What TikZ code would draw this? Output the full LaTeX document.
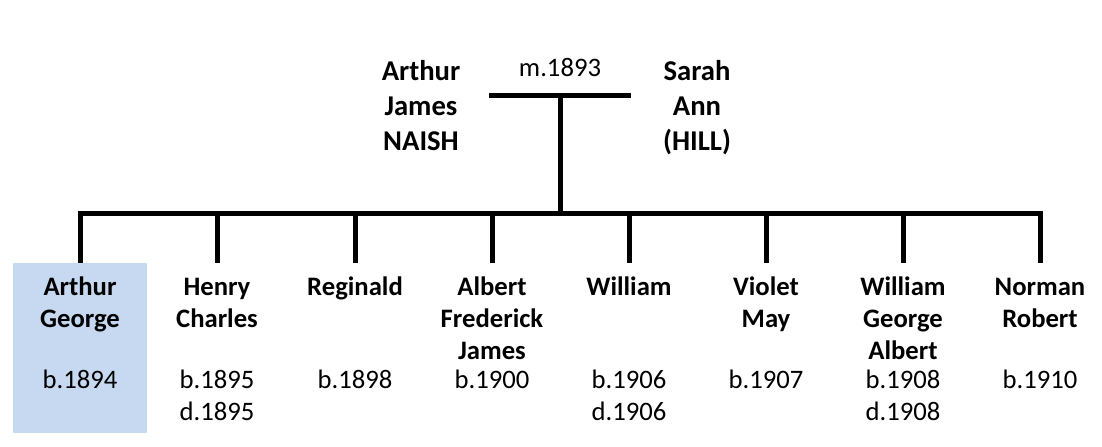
\documentclass[tikz,border=0pt]{standalone}
\usepackage{fontspec}
\setmainfont{Carlito}
\definecolor{paleblue}{RGB}{198,217,240}
% lines stacked from the first baseline down
\newcommand{\namestack}[1]{\begin{tabular}[t]{@{}c@{}}#1\end{tabular}}
\tikzset{
  person/.style={inner sep=0pt, anchor=base, font=\fontsize{20}{24}\selectfont\bfseries},
  parent/.style={inner sep=0pt, anchor=base, font=\fontsize{21.5}{26}\selectfont\bfseries},
  year/.style={inner sep=0pt, anchor=base, font=\fontsize{20}{24}\selectfont},
  bar/.style={line width=3.75pt},
  kid/.style={anchor=north, inner sep=0pt, minimum width=100.5pt, minimum height=127.5pt}
}
\begin{document}
\begin{tikzpicture}[x=0.75pt,y=-0.75pt]
		\useasboundingbox (0,0) rectangle (1102,446);
		% parents
		\node (f) [parent] at (421,80.7) {\namestack{Arthur\\James\\NAISH}};
		\node (m) [parent] at (697,80.7) {\namestack{Sarah\\Ann\\(HILL)}};
		\node (w) [year] at (560,76) {m.1893};
		\coordinate (ml) at (489,95);
		\coordinate (mr) at (631,95);
		\coordinate (j) at (560,213);
		\draw [bar] (ml) -- (mr);
		\draw [bar] (j |- ml) -- (j);
		% children
		\foreach \i/\x/\fc/\name/\dates in {
			1/80/paleblue/{Arthur\\George}/{b.1894},
			2/217/none/{Henry\\Charles}/{b.1895\\d.1895},
			3/355/none/{Reginald}/{b.1898},
			4/492/none/{Albert\\Frederick\\James}/{b.1900},
			5/629/none/{William}/{b.1906\\d.1906},
			6/766/none/{Violet\\May}/{b.1907},
			7/903/none/{William\\George\\Albert}/{b.1908\\d.1908},
			8/1040/none/{Norman\\Robert}/{b.1910}}
		{
			\node (c\i) [kid, fill=\fc] at (\x,263) {};
			\node (n\i) [person] at (\x,295) {\namestack{\name}};
			\node (d\i) [year] at (\x,388) {\namestack{\dates}};
			\draw [bar] (c\i.north |- j) -- (c\i.north);
		}
		\draw [bar, line cap=rect] (c1.north |- j) -- (c8.north |- j);
		\end{tikzpicture}
\end{document}
